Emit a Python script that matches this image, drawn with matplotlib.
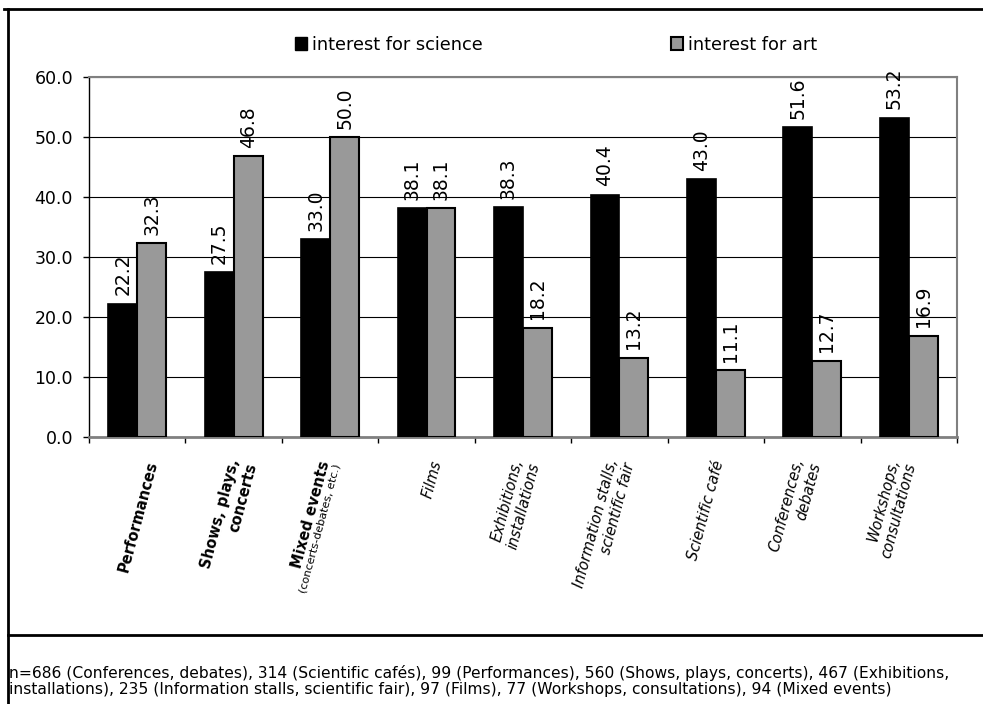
import numpy as np
import matplotlib
matplotlib.use("Agg")
import matplotlib.pyplot as plt
from matplotlib.lines import Line2D
from matplotlib.patches import Patch
from matplotlib.transforms import ScaledTranslation
from matplotlib.ticker import FormatStrFormatter

# Event types and the share of visitors interested in science / art
categories = [
    "Performances",
    "Shows, plays,\nconcerts",
    "Mixed events",
    "Films",
    "Exhibitions,\ninstallations",
    "Information stalls,\nscientific fair",
    "Scientific café",
    "Conferences,\ndebates",
    "Workshops,\nconsultations",
]
science = [22.2, 27.5, 33.0, 38.1, 38.3, 40.4, 43.0, 51.6, 53.2]
art = [32.3, 46.8, 50.0, 38.1, 18.2, 13.2, 11.1, 12.7, 16.9]
series_names = ["interest for science", "interest for art"]
y_ticks = [0, 10, 20, 30, 40, 50, 60]

note = ("n=686 (Conferences, debates), 314 (Scientific cafés), 99 (Performances), "
        "560 (Shows, plays, concerts), 467 (Exhibitions,\n"
        "installations), 235 (Information stalls, scientific fair), 97 (Films), "
        "77 (Workshops, consultations), 94 (Mixed events)")

# label styling: art-oriented events in bold, science-oriented in italics
label_weight = ["bold"] * 3 + ["normal"] * 6
label_style = ["normal"] * 3 + ["italic"] * 6
label_shift_px = [16, 10, -5, 11, 4, 2, 3, -5, -6]

W, H, DPI = 983, 704, 100
fig = plt.figure(figsize=(W / DPI, H / DPI), dpi=DPI)
fig.patch.set_facecolor("white")

ax = fig.add_axes([89 / W, 1 - 437 / H, (957 - 89) / W, (437 - 77) / H])

x = np.arange(len(categories))
bw = 0.3
b1 = ax.bar(x - bw / 2, science, bw, color="black", edgecolor="black", lw=1.2, zorder=3)
b2 = ax.bar(x + bw / 2, art, bw, color="#999999", edgecolor="black", lw=1.5, zorder=3)

for bars, vals in ((b1, science), (b2, art)):
    for rect, v in zip(bars, vals):
        ax.annotate(f"{v:.1f}", (rect.get_x() + rect.get_width() / 2, v),
                    xytext=(0, 6), textcoords="offset points",
                    rotation=90, ha="center", va="bottom", fontsize=13.5,
                    color="black", zorder=4)

ax.set_xlim(-0.5, len(categories) - 0.5)
ax.set_ylim(0, 60)
ax.set_yticks(y_ticks)
ax.yaxis.set_major_formatter(FormatStrFormatter("%.1f"))
ax.set_xticks(np.arange(-0.5, len(categories), 1.0))
ax.set_xticklabels([])
ax.tick_params(axis="y", direction="out", length=4.5, width=1, pad=7,
               labelsize=12.5, colors="black")
ax.tick_params(axis="x", direction="out", length=4.5, width=1)

ax.yaxis.grid(True, color="black", lw=0.8)
ax.set_axisbelow(True)
for side in ("top", "right", "bottom"):
    ax.spines[side].set_color("#808080")
ax.spines["top"].set_linewidth(1.5)
ax.spines["right"].set_linewidth(1.5)
ax.spines["bottom"].set_linewidth(2)
ax.spines["left"].set_color("black")
ax.spines["left"].set_linewidth(1)

# rotated category labels below the axis
base = ax.get_xaxis_transform()
for i, (lab, fw, fs, dx) in enumerate(zip(categories, label_weight, label_style, label_shift_px)):
    tr = base + ScaledTranslation(dx / DPI, -24 / DPI, fig.dpi_scale_trans)
    ax.text(i, 0, lab, transform=tr, rotation=75, rotation_mode="anchor",
            ha="right", va="center", multialignment="right",
            fontsize=10.5, fontweight=fw, fontstyle=fs)
    if lab == "Mixed events":
        ang = np.deg2rad(75)
        off = 13
        tr2 = base + ScaledTranslation((dx + off * np.sin(ang)) / DPI,
                                       (-24 - off * np.cos(ang)) / DPI,
                                       fig.dpi_scale_trans)
        ax.text(i, 0, "(concerts-debates, etc.)", transform=tr2, rotation=75,
                rotation_mode="anchor", ha="right", va="center", fontsize=8)

handles = [Patch(facecolor="black", edgecolor="black"),
           Patch(facecolor="#999999", edgecolor="black", lw=1.5)]
fig.legend(handles, series_names, loc="center", bbox_to_anchor=(556 / W, 1 - 45 / H),
           ncol=2, frameon=False, fontsize=12.8, handlelength=0.7, handleheight=0.75,
           handletextpad=0.25, columnspacing=10.6)

fig.text(9 / W, 1 - 681 / H, note, ha="left", va="center", fontsize=11.2,
         linespacing=1.15)

# frame lines around the chart and above the note
fig.add_artist(Line2D([8 / W, 8 / W], [0, 1 - 9 / H], color="black", lw=2))
fig.add_artist(Line2D([4 / W, 1], [1 - 9 / H, 1 - 9 / H], color="black", lw=2))
fig.add_artist(Line2D([8 / W, 1], [1 - 635 / H, 1 - 635 / H], color="black", lw=2))

fig.savefig("out.png", dpi=DPI, facecolor="white")
